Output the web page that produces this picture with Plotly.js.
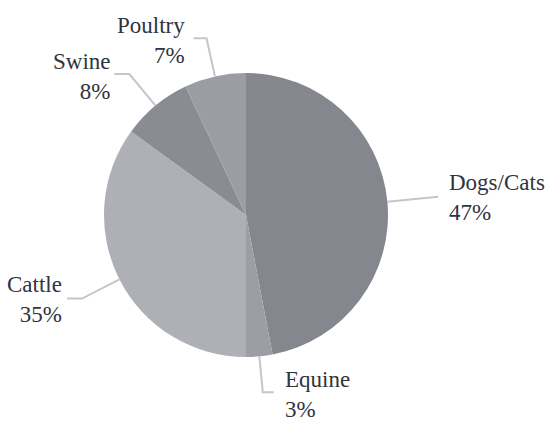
<!DOCTYPE html>
<html>
<head>
<meta charset="utf-8">
<script src="https://cdn.plot.ly/plotly-3.0.1.min.js"></script>
<style>
html,body{margin:0;padding:0;background:#fff;}
#chart{width:548px;height:421px;}
#chart svg text{font-family:"Liberation Serif","Times New Roman",serif !important;}
</style>
</head>
<body>
<div id="chart"></div>
<script>
// ---- data ----
var categories = ["Dogs/Cats", "Equine", "Cattle", "Swine", "Poultry"];
var shares = [47, 3, 35, 8, 7];
var sliceColors = ["#85878f", "#9c9ea5", "#afb0b7", "#8a8c94", "#9b9da4"];

// ---- layout geometry (pixels) ----
var W = 548, H = 421;
var M = {l: 104, r: 160, t: 73, b: 64};
var cx = M.l + (W - M.l - M.r) / 2;
var cy = M.t + (H - M.t - M.b) / 2;
var R = Math.min(W - M.l - M.r, H - M.t - M.b) / 2;
// leader style per label: radial length, horizontal length, text gap, vertical text offset
var leaderLen = [51, 36, 42, 41, 39];
var leaderHor = [0, 11, 15, 15, 13];
var textGap = [9, 9, 3, 1, 7];
var textDy = [1, 2, 1, 3, 2];
var serif = "Liberation Serif";

function px2x(px) { return (px - M.l) / (W - M.l - M.r); }
function py2y(py) { return 1 - (py - M.t) / (H - M.t - M.b); }

var total = shares.reduce(function (a, b) { return a + b; }, 0);
var shapes = [], annotations = [];
var cum = 0;
for (var i = 0; i < shares.length; i++) {
  var mid = (cum + shares[i] / 2) / total * 2 * Math.PI;
  cum += shares[i];
  var dx = Math.sin(mid), dy = -Math.cos(mid);
  var x0 = cx + R * dx, y0 = cy + R * dy;
  var x1 = x0 + leaderLen[i] * dx, y1 = y0 + leaderLen[i] * dy;
  var side = dx >= 0 ? 1 : -1;
  var x2 = x1 + side * leaderHor[i], y2 = y1;
  shapes.push({
    type: "path", xref: "paper", yref: "paper",
    path: "M" + px2x(x0) + "," + py2y(y0) + " L" + px2x(x1) + "," + py2y(y1) + " L" + px2x(x2) + "," + py2y(y2),
    line: {color: "#c5c6ca", width: 2}
  });
  annotations.push({
    xref: "paper", yref: "paper",
    x: px2x(x2 + side * textGap[i]), y: py2y(y2 + textDy[i]),
    xanchor: side > 0 ? "left" : "right", yanchor: "middle",
    align: side > 0 ? "left" : "right",
    showarrow: false,
    text: categories[i] + "<br>" + shares[i] + "%",
    font: {family: serif, size: 23, color: "#30343e"}
  });
}

var trace = {
  type: "pie",
  labels: categories,
  values: shares,
  sort: false,
  direction: "clockwise",
  rotation: 0,
  textinfo: "none",
  hoverinfo: "none",
  marker: {colors: sliceColors, line: {width: 0}},
  showlegend: false
};

var layout = {
  width: W, height: H,
  margin: M,
  font: {family: serif, color: "#30343e"},
  paper_bgcolor: "#ffffff",
  plot_bgcolor: "#ffffff",
  showlegend: false,
  shapes: shapes,
  annotations: annotations
};

Plotly.newPlot("chart", [trace], layout, {displayModeBar: false, staticPlot: true});
</script>
</body>
</html>
